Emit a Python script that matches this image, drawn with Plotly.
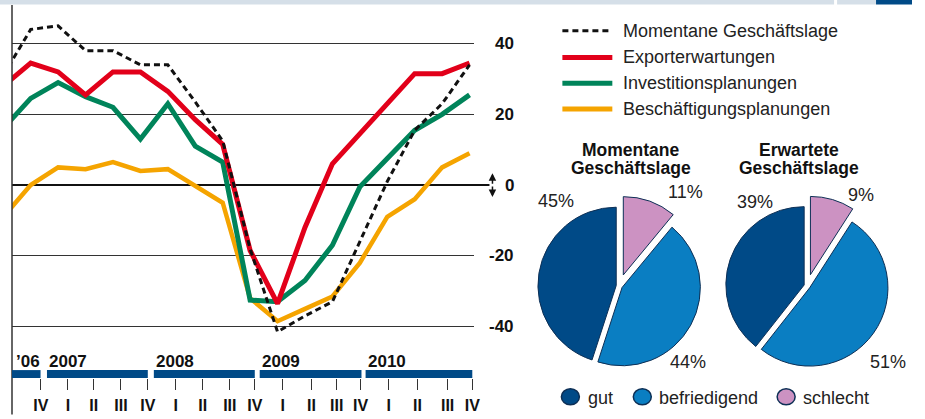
import plotly.graph_objects as go

# Quartale (erster Punkt liegt links außerhalb und wird abgeschnitten)
quarters = ["III/06", "IV/06", "I/07", "II/07", "III/07", "IV/07", "I/08", "II/08", "III/08",
            "IV/08", "I/09", "II/09", "III/09", "IV/09", "I/10", "II/10", "III/10", "IV/10"]

momentane = [31, 44, 45, 38, 38, 34, 34, 23.5, 12.5, -18, -41.5, -37, -33, -16, 1, 15.5, 23, 34]
export = [28, 34.5, 32, 25.5, 32, 32, 26.5, 18.5, 11.5, -18.5, -33.5, -12, 6, 14.5, 22.5, 31.5, 31.5, 34.5]
invest = [16, 24.5, 29, 25, 22, 13, 23, 11, 6.5, -32.5, -33, -27, -17, -0.5, 7.5, 15.5, 20, 25.5]
besch = [-9, 0, 5, 4.5, 6.5, 4, 4.5, -0.2, -5, -32, -38.5, -35, -31.5, -22, -9, -4, 5, 9]

tick_text = ["IV", "I", "II", "III", "IV", "I", "II", "III", "IV",
             "I", "II", "III", "IV", "I", "II", "III", "IV"]
year_labels = ["\u201906", "2007", "2008", "2009", "2010"]
y_labels = [40, 20, 0, -20, -40]

pie_labels = ["schlecht", "befriedigend", "gut"]
pie_now = [11, 44, 45]
pie_next = [9, 51, 39]

# Stil / Positionen
FONT = "Liberation Sans, Arial, sans-serif"
C_RED, C_GREEN, C_ORANGE = "#e2001a", "#00845a", "#f5a400"
C_GUT, C_BEF, C_SCHL = "#004a87", "#0a7ec2", "#cc92c2"
W, H, ML, MR, MT, MB = 925, 419, 12, 10, 5, 37
PW, PH = W - ML - MR, H - MT - MB


def px(x):
    return (x - ML) / PW


def py(y):
    return (H - MB - y) / PH


xpos = [i - 1 for i in range(len(quarters))]
tick_pos = [0.37, 1.36, 2.3, 3.29, 4.27, 5.29, 6.27, 7.26, 8.17,
            9.19, 10.24, 11.16, 12.03, 13.05, 14.1, 15.2, 16.1]
bar_spans = [(-0.69, 0.36), (0.594, 4.27), (4.49, 8.17), (8.35, 12.06), (12.21, 16.1)]

fig = go.Figure()

series = [
    ("Beschäftigungsplanungen", besch, C_ORANGE, 4.5, "solid"),
    ("Investitionsplanungen", invest, C_GREEN, 5, "solid"),
    ("Exporterwartungen", export, C_RED, 5, "solid"),
    ("Momentane Geschäftslage", momentane, "#111111", 3, "6px,4px"),
]
for name, vals, col, wd, dash in series:
    fig.add_trace(go.Scatter(x=xpos, y=vals, mode="lines", name=name,
                             line=dict(color=col, width=wd, dash=dash),
                             showlegend=False, hoverinfo="skip"))

# Tortendiagramme
pull = [0.15, 0.04, 0.04]
for vals, cx in [(pie_now, 620), (pie_next, 808)]:
    half = 91
    fig.add_trace(go.Pie(values=vals, labels=pie_labels, sort=False, direction="clockwise",
                         rotation=0, pull=pull, textinfo="none", hoverinfo="skip",
                         showlegend=False,
                         marker=dict(colors=[C_SCHL, C_BEF, C_GUT],
                                     line=dict(color="#0d2f55", width=1)),
                         domain=dict(x=[px(cx - half), px(cx + half)],
                                     y=[py(289 + half), py(289 - half)])))

shapes = []
ann = []

# oberer Balken
shapes.append(dict(type="rect", xref="paper", yref="paper", x0=px(0), x1=px(835),
                   y0=py(4.5), y1=py(0), fillcolor="#d5dfe8", line_width=0, layer="below"))
shapes.append(dict(type="rect", xref="paper", yref="paper", x0=px(838), x1=px(877),
                   y0=py(4.5), y1=py(0), fillcolor="#d5dfe8", line_width=0, layer="below"))
shapes.append(dict(type="rect", xref="paper", yref="paper", x0=px(877), x1=px(913),
                   y0=py(4.5), y1=py(0), fillcolor="#004a87", line_width=0, layer="below"))

# Nulllinie und linke Achse
shapes.append(dict(type="line", xref="paper", yref="y", x0=px(12), x1=px(490), y0=0, y1=0,
                   line=dict(color="#111111", width=2), layer="below"))
shapes.append(dict(type="line", xref="paper", yref="paper", x0=0, x1=0, y0=py(419), y1=py(5),
                   line=dict(color="#333333", width=1.5)))

# Jahresbalken
for (a, b), lab in zip(bar_spans, year_labels):
    shapes.append(dict(type="rect", xref="x", yref="paper", x0=max(a, -0.681), x1=b,
                       y0=py(382), y1=py(374), fillcolor="#004a87", line_width=0))
    ann.append(dict(x=max(a, -0.62), y=py(365), xref="x", yref="paper", text=lab,
                    showarrow=False, xanchor="left", yanchor="middle",
                    font=dict(family=FONT, size=17, color="#111111", weight="bold")))

# y-Beschriftung rechts
for v in y_labels:
    ann.append(dict(x=px(517), y=v, xref="paper", yref="y", text=str(v), showarrow=False,
                    xanchor="right", yanchor="middle",
                    font=dict(family=FONT, size=17, color="#111111", weight="bold")))
for tip, tail in [(175, 12), (199, -12)]:
    ann.append(dict(x=px(493), y=py(tip), xref="paper", yref="paper", text="", showarrow=True,
                    ax=0, ay=tail, arrowhead=2, arrowsize=1, arrowwidth=1.5,
                    arrowcolor="#111111"))

# Legende Linien
leg_rows = [31, 58, 84, 110]
for (name, vals, col, wd, dash), yy in zip(reversed(series), leg_rows):
    shapes.append(dict(type="line", xref="paper", yref="paper", x0=px(563), x1=px(613),
                       y0=py(yy), y1=py(yy),
                       line=dict(color=col, width=5 if dash == "solid" else 3,
                                 dash="solid" if dash == "solid" else "6px,4px")))
    ann.append(dict(x=px(622), y=py(yy), xref="paper", yref="paper", text=name,
                    showarrow=False, xanchor="left", yanchor="middle",
                    font=dict(family=FONT, size=18, color="#222222")))

# Titel der Torten
for cx, l1 in [(632, "Momentane"), (800, "Erwartete")]:
    for yy, txt in [(151.5, l1), (170, "Geschäftslage")]:
        ann.append(dict(x=px(cx), y=py(yy), xref="paper", yref="paper", text=txt,
                        showarrow=False, xanchor="center", yanchor="middle",
                        font=dict(family=FONT, size=17.5, color="#111111", weight="bold")))

# Prozentangaben
pct_pos = [[(686, 194), (689, 366), (557, 203)], [(862, 197), (889, 366), (756, 204)]]
for vals, poss in zip([pie_now, pie_next], pct_pos):
    for v, (x, y) in zip(vals, poss):
        ann.append(dict(x=px(x), y=py(y), xref="paper", yref="paper", text=f"{v}%",
                        showarrow=False, xanchor="center", yanchor="middle",
                        font=dict(family=FONT, size=18, color="#222222")))

# Legende Torten
for lab, col, cx, tx in [("gut", C_GUT, 571, 587), ("befriedigend", C_BEF, 643, 658),
                         ("schlecht", C_SCHL, 787, 802)]:
    shapes.append(dict(type="circle", xref="paper", yref="paper", xsizemode="pixel",
                       ysizemode="pixel", xanchor=px(cx), yanchor=py(401),
                       x0=-9, x1=9, y0=-8, y1=8, fillcolor=col,
                       line=dict(color="#0d2f55", width=1.5)))
    ann.append(dict(x=px(tx), y=py(402), xref="paper", yref="paper", text=lab,
                    showarrow=False, xanchor="left", yanchor="middle",
                    font=dict(family=FONT, size=18, color="#222222")))

fig.update_layout(
    width=W, height=H, margin=dict(l=ML, r=MR, t=MT, b=MB),
    paper_bgcolor="white", plot_bgcolor="white",
    font=dict(family=FONT),
    shapes=shapes, annotations=ann,
    xaxis=dict(domain=[0, px(475)], range=[-0.681, 16.18], showgrid=False, zeroline=False,
               showline=False, ticks="outside", ticklen=11, tickwidth=1, tickcolor="#333333",
               tickvals=tick_pos, ticktext=tick_text, tickangle=0, ticklabelstandoff=2,
               tickfont=dict(family=FONT, size=16, color="#111111", weight="bold")),
    yaxis=dict(domain=[0, 1], range=[-54.55, 50.91], tickvals=[-40, -20, 20, 40],
               showticklabels=False, showgrid=True, gridcolor="#333333", gridwidth=1,
               zeroline=False, showline=False, ticks=""),
)

fig.write_html("out.html", config={"displayModeBar": False},
               post_script="document.body.style.margin='0';")
